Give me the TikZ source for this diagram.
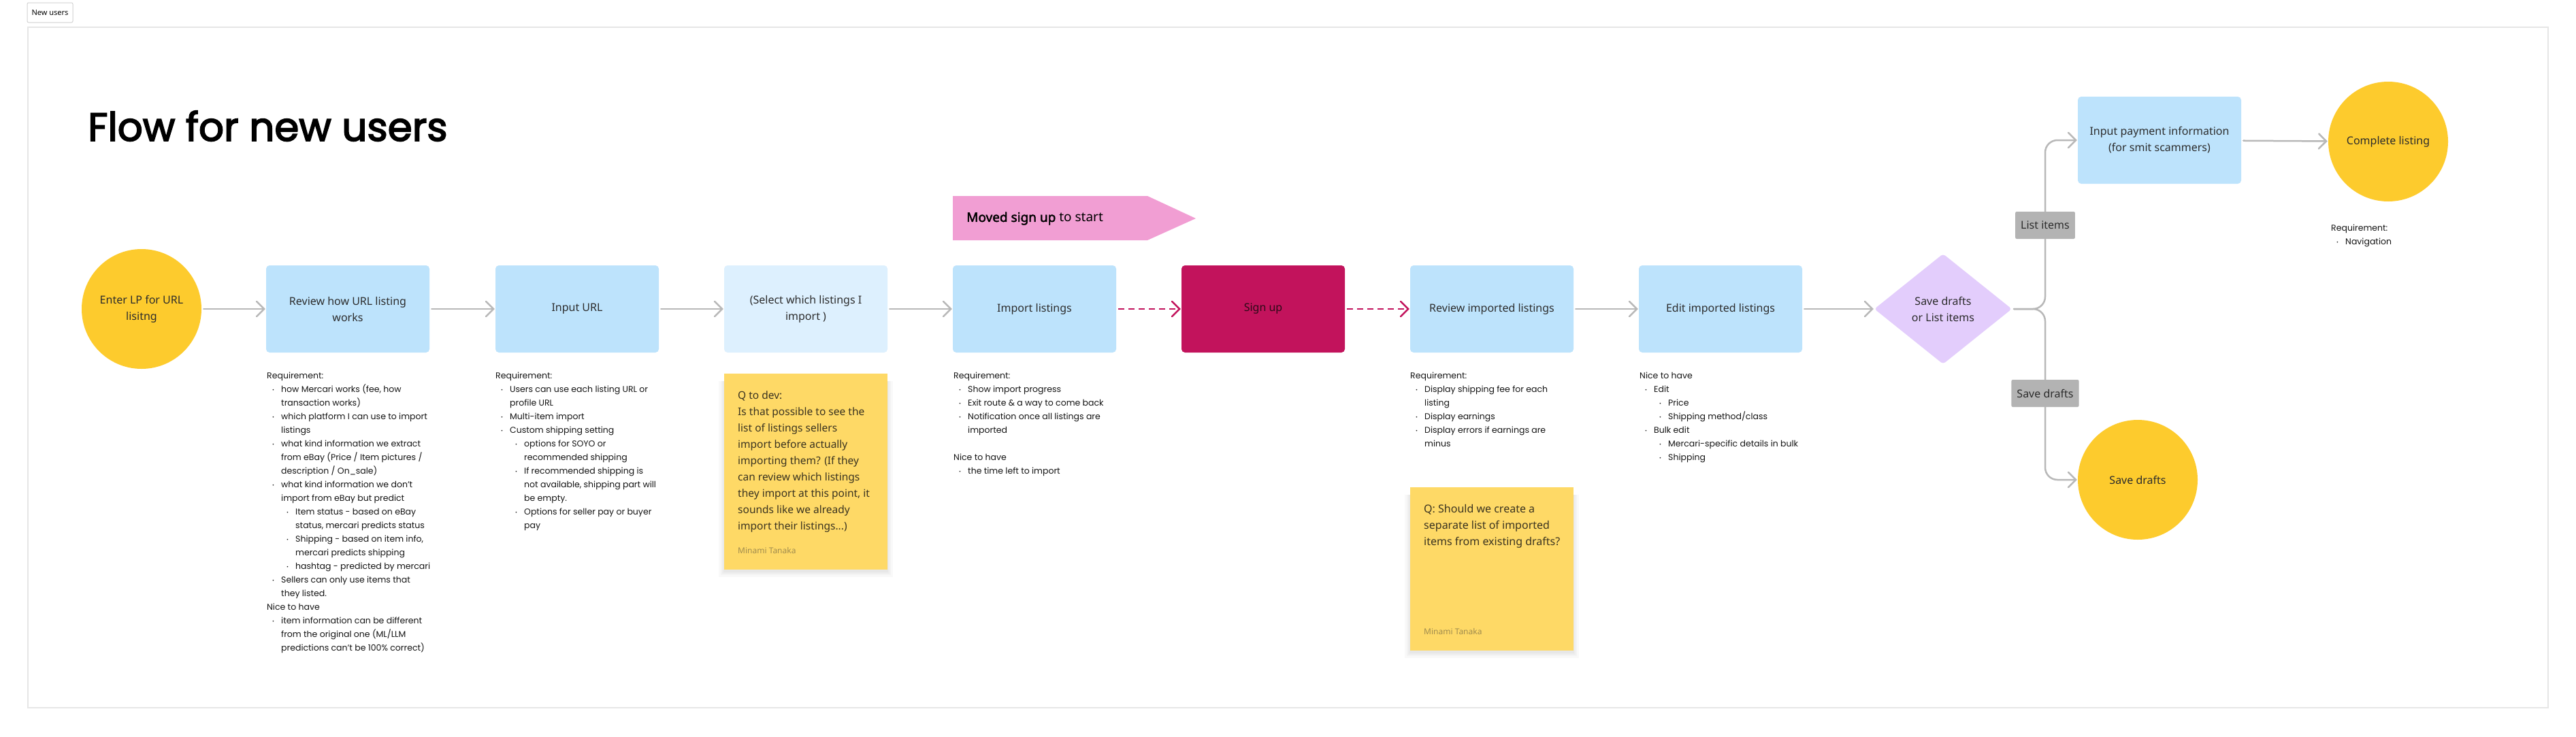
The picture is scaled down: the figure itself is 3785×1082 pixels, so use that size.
\documentclass[tikz,border=0pt]{standalone}
\usepackage{fontspec}
\setmainfont{Noto Sans}
\newfontfamily\notefont{Poppins}
\newfontfamily\titlefont{Poppins}[FakeBold=3]
\newfontfamily\nsbold{Noto Sans}[FakeBold=2.2]
\usetikzlibrary{arrows.meta,shapes.geometric}
\definecolor{yellowc}{HTML}{FDCB2D}
\definecolor{boxblue}{HTML}{BDE3FC}
\definecolor{lightblue}{HTML}{DDF0FE}
\definecolor{stickyc}{HTML}{FED966}
\definecolor{magentac}{HTML}{C2135C}
\definecolor{pinkc}{HTML}{F19ED3}
\definecolor{lavender}{HTML}{E3CDFC}
\definecolor{lblgray}{HTML}{B3B3B3}
\definecolor{arrgray}{HTML}{B8B8B8}
\definecolor{framec}{HTML}{E6E6E6}
\definecolor{textdark}{HTML}{2C2C2C}
\definecolor{notetext}{HTML}{141414}
\definecolor{stickytext}{HTML}{3A3320}
\definecolor{authorc}{HTML}{A08C4E}
\definecolor{signtext}{HTML}{2B0A17}
\newcommand\ntbul{{\fontsize{7}{7}\selectfont\raisebox{1.5pt}{•}}}
\newcommand\bA{\hspace*{8pt}\makebox[13pt][l]{\ntbul}}
\newcommand\cA{\hspace*{21pt}}
\newcommand\bB{\hspace*{29pt}\makebox[13pt][l]{\ntbul}}
\newcommand\cB{\hspace*{42pt}}
\tikzset{
  flowbox/.style={rectangle, rounded corners=5pt, minimum width=240pt, minimum height=128pt, inner sep=0pt, align=center, text=textdark, font=\fontsize{16}{24}\selectfont},
  bluebox/.style={flowbox, fill=boxblue},
  termcircle/.style={circle, minimum size=176pt, inner sep=0pt, fill=yellowc, align=center, text=textdark, font=\fontsize{16}{24}\selectfont},
  arr/.style={draw=arrgray, line width=2.5pt, line cap=round, shorten <=3pt, shorten >=1pt, -{Straight Barb[length=11pt,width=22pt,line cap=round]}},
  dasharr/.style={draw=magentac, line width=2.5pt, dash pattern=on 9pt off 6pt, shorten <=3pt, shorten >=1pt, -{Straight Barb[length=11pt,width=22pt,line cap=round]}},
  reqtext/.style={anchor=north west, inner sep=0pt, align=left, text=notetext, font=\notefont\fontsize{12.5}{20}\selectfont},
  sticky/.style={rectangle, fill=stickyc, inner sep=0pt},
  stickytxt/.style={anchor=north west, inner sep=0pt, align=left, text=stickytext},
  author/.style={anchor=west, inner sep=0pt, text=authorc, font=\fontsize{12}{14}\selectfont},
  lbl/.style={rectangle, fill=lblgray, rounded corners=2pt, inner xsep=8pt, minimum height=40pt, text=textdark, font=\fontsize{16}{20}\selectfont},
  shadowbox/.style={fill=black, opacity=0.025, draw=none}
}
\begin{document}
\begin{tikzpicture}[x=1pt,y=-1pt]
\useasboundingbox (0,0) rectangle (3785,1082);
\fill[white] (0,0) rectangle (3785,1082);
% frame and tab
\draw[framec, line width=2pt] (41,40) rectangle (3744,1040);
\node[draw=framec!80!gray, line width=1pt, fill=white, rounded corners=2pt, minimum width=67pt, minimum height=29pt, inner sep=0pt, font=\fontsize{11}{13}\selectfont] (tab) at (73.5,18.5) {New users};
% title
\node[anchor=base west, inner sep=0pt, text=black, font=\titlefont\fontsize{58}{60}\selectfont] (title) at (129,207) {Flow for new users};
% banner
\fill[pinkc] (1400,288) -- (1686,288) -- (1757,321) -- (1686,353) -- (1400,353) -- cycle;
\node[anchor=west, inner sep=0pt, text=black, font=\fontsize{19}{24}\selectfont] (moved) at (1420,321) {{\nsbold Moved sign up} to start};
% main flow nodes
\node[termcircle] (enter) at (208,454) {Enter LP for URL\\lisitng};
\node[bluebox] (review) at (511,454) {Review how URL listing\\works};
\node[bluebox] (inurl) at (848,454) {Input URL};
\node[flowbox, fill=lightblue] (select) at (1184,454) {(Select which listings I\\import )};
\node[bluebox] (import) at (1520,454) {Import listings};
\node[flowbox, fill=magentac, text=signtext] (signup) at (1856,454) {Sign up};
\node[bluebox] (revimp) at (2192,454) {Review imported listings};
\node[bluebox] (edit) at (2528,454) {Edit imported listings};
\node[diamond, minimum width=202pt, minimum height=162pt, inner sep=0pt, fill=lavender, rounded corners=4pt, align=center, text=textdark, font=\fontsize{16}{24}\selectfont] (decide) at (2855,454) {Save drafts\\or List items};
\node[bluebox] (pay) at (3173,206) {Input payment information\\(for smit scammers)};
\node[termcircle] (complete) at (3509,208) {Complete listing};
\node[termcircle] (drafts) at (3141,705) {Save drafts};
\coordinate (junc) at (3005,454);
% connectors
\draw[arr] (enter) -- (review);
\draw[arr] (review) -- (inurl);
\draw[arr] (inurl) -- (select);
\draw[arr] (select) -- (import);
\draw[dasharr] (import) -- (signup);
\draw[dasharr] (signup) -- (revimp);
\draw[arr] (revimp) -- (edit);
\draw[arr] (edit) -- (decide);
\draw[arr, rounded corners=18pt] (decide.east) -- (junc) |- (pay.west);
\draw[arr, rounded corners=18pt] (decide.east) -- (junc) |- (drafts.west);
\draw[arr] (pay) -- (complete);
\node[lbl] (lbllist) at (3005,331) {List items};
\node[lbl] (lbldraft) at (3005,578) {Save drafts};
% requirement texts
\node[reqtext] (req1) at (392,547) {Requirement:\\
\bA how Mercari works (fee, how\\
\cA transaction works)\\
\bA which platform I can use to import\\
\cA listings\\
\bA what kind information we extract\\
\cA from eBay (Price / Item pictures /\\
\cA description / On\_sale)\\
\bA what kind information we don’t\\
\cA import from eBay but predict\\
\bB Item status - based on eBay\\
\cB status, mercari predicts status\\
\bB Shipping - based on item info,\\
\cB mercari predicts shipping\\
\bB hashtag - predicted by mercari\\
\bA Sellers can only use items that\\
\cA they listed.\\
Nice to have\\
\bA item information can be different\\
\cA from the original one (ML/LLM\\
\cA predictions can’t be 100\% correct)};
\node[reqtext] (req2) at (728,547) {Requirement:\\
\bA Users can use each listing URL or\\
\cA profile URL\\
\bA Multi-item import\\
\bA Custom shipping setting\\
\bB options for SOYO or\\
\cB recommended shipping\\
\bB If recommended shipping is\\
\cB not available, shipping part will\\
\cB be empty.\\
\bB Options for seller pay or buyer\\
\cB pay};
\node[reqtext] (req3) at (1401,547) {Requirement:\\
\bA Show import progress\\
\bA Exit route \& a way to come back\\
\bA Notification once all listings are\\
\cA imported\\
\mbox{}\\
Nice to have\\
\bA the time left to import};
\node[reqtext] (req4) at (2072,547) {Requirement:\\
\bA Display shipping fee for each\\
\cA listing\\
\bA Display earnings\\
\bA Display errors if earnings are\\
\cA minus};
\node[reqtext] (req5) at (2409,547) {Nice to have\\
\bA Edit\\
\bB Price\\
\bB Shipping method/class\\
\bA Bulk edit\\
\bB Mercari-specific details in bulk\\
\bB Shipping};
\node[reqtext] (req6) at (3425,330) {Requirement:\\
\bA Navigation};
% sticky notes with soft shadows (mostly below)
\foreach \d in {1,3,5,8}{
  \fill[shadowbox] (1064-\d,560) rectangle (1304+\d,840+\d);
  \fill[shadowbox] (2072-\d,727) rectangle (2312+\d,959+\d);
}
\node[sticky, minimum width=240pt, minimum height=288pt] (note1) at (1184,693) {};
\node[stickytxt, font=\fontsize{15.5}{24}\selectfont] (note1txt) at (1084,575) {Q to dev:\\
Is that possible to see the\\
list of listings sellers\\
import before actually\\
importing them? (If they\\
can review which listings\\
they import at this point, it\\
sounds like we already\\
import their listings...)};
\node[author] (note1auth) at (1084,809) {Minami Tanaka};
\node[sticky, minimum width=240pt, minimum height=240pt] (note2) at (2192,836) {};
\node[stickytxt, font=\fontsize{16}{24}\selectfont] (note2txt) at (2092,741) {Q: Should we create a\\
separate list of imported\\
items from existing drafts?};
\node[author] (note2auth) at (2092,928) {Minami Tanaka};
\end{tikzpicture}
\end{document}
